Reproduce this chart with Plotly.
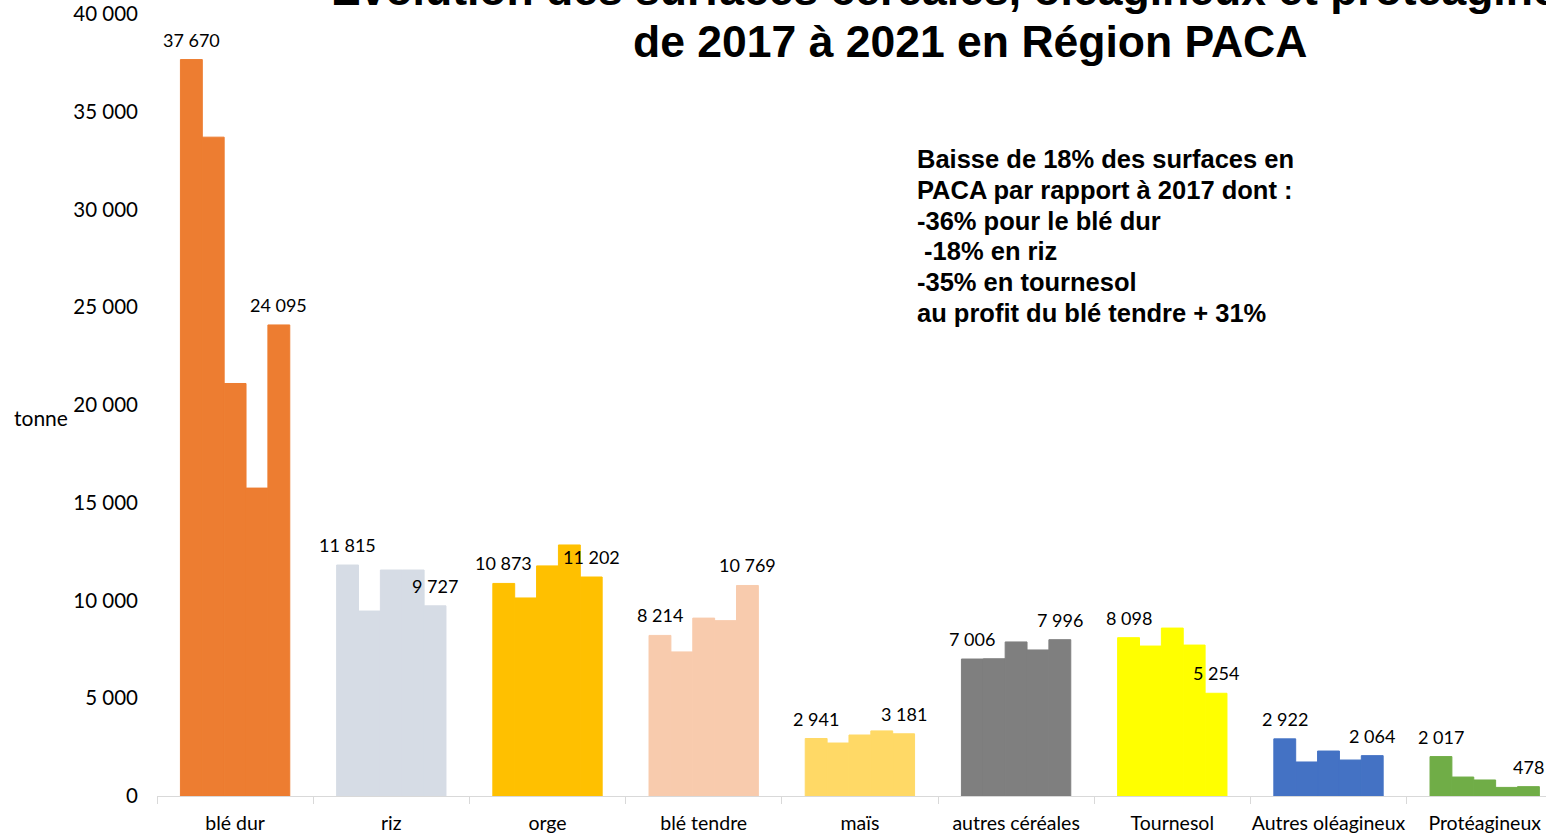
import plotly.graph_objects as go

categories = ["blé dur", "riz", "orge", "blé tendre", "maïs", "autres céréales",
              "Tournesol", "Autres oléagineux", "Protéagineux"]
years = ["2017", "2018", "2019", "2020", "2021"]

v2017 = [37670, 11815, 10873, 8214, 2941, 7006, 8098, 2922, 2017]
v2018 = [33700, 9460, 10130, 7370, 2710, 7020, 7670, 1740, 970]
v2019 = [21100, 11560, 11770, 9100, 3120, 7880, 8590, 2300, 820]
v2020 = [15750, 11560, 12840, 8970, 3330, 7470, 7720, 1840, 440]
v2021 = [24095, 9727, 11202, 10769, 3181, 7996, 5254, 2064, 478]
series = [v2017, v2018, v2019, v2020, v2021]
labelled_years = ["2017", "2021"]

colors = ["#ED7D31", "#D6DCE5", "#FFC000", "#F8CBAD", "#FFD966", "#7F7F7F",
          "#FFFF00", "#4472C4", "#70AD47"]

note_lines = ["Baisse de 18% des surfaces en",
              "PACA par rapport à 2017 dont :",
              "-36% pour le blé dur",
              "&nbsp;-18% en riz",
              "-35% en tournesol",
              "au profit du blé tendre + 31%"]

# the page body margin is removed below, so the figure fills the window
W, H = 1546, 837
L, T = 157, 14
B = H - 796
cat_px = 156.2
bargap = 0.3
bar_px = cat_px * (1 - bargap) / len(years)


def fmt(v):
    return f"{v:,}".replace(",", " ")


def px_x(p):
    # page pixel -> paper x
    return (p - L) / (W - L)


def px_y(p):
    # page pixel -> paper y
    return (796 - p) / (796 - T)


fig = go.Figure()
for yr, vals in zip(years, series):
    fig.add_trace(go.Bar(
        x=categories, y=vals, name=yr,
        marker=dict(color=colors, line=dict(width=1, color=colors)),
    ))

annotations = []
# value labels above the first and last year bars
for i, (yr, vals) in enumerate(zip(years, series)):
    if yr not in labelled_years:
        continue
    for cat, v in zip(categories, vals):
        annotations.append(dict(
            text=fmt(v), x=cat, y=v, xref="x", yref="y",
            xshift=(i - (len(years) - 1) / 2) * bar_px, yshift=20,
            xanchor="center", yanchor="middle", showarrow=False,
            font=dict(family="Lato", size=18, color="#000000")))

annotations.append(dict(
    text="<b>Evolution des surfaces céréales, oléagineux et protéagineux</b>",
    xref="paper", yref="paper", x=px_x(970), y=px_y(-10),
    xanchor="center", yanchor="middle", showarrow=False,
    font=dict(family="Liberation Sans", size=44.5, color="#000000")))
annotations.append(dict(
    text="<b>de 2017 à 2021 en Région PACA</b>",
    xref="paper", yref="paper", x=px_x(970), y=px_y(42),
    xanchor="center", yanchor="middle", showarrow=False,
    font=dict(family="Liberation Sans", size=44.5, color="#000000")))

for k, line in enumerate(note_lines):
    annotations.append(dict(
        text="<b>" + line + "</b>",
        xref="paper", yref="paper", x=px_x(915), y=px_y(159 + k * 30.8),
        xanchor="left", yanchor="middle", align="left", showarrow=False,
        font=dict(family="Liberation Sans", size=25.5, color="#000000")))

annotations.append(dict(
    text="tonne", xref="paper", yref="paper", x=px_x(12), y=px_y(417),
    xanchor="left", yanchor="middle", showarrow=False,
    font=dict(family="Lato", size=21, color="#000000")))

fig.update_layout(
    width=W, height=H,
    margin=dict(l=L, r=0, t=T, b=B, autoexpand=False),
    barmode="group", bargap=bargap, bargroupgap=0,
    showlegend=False,
    plot_bgcolor="white", paper_bgcolor="white",
    separators=", ",
    xaxis=dict(
        range=[-0.5, -0.5 + (W - L) / cat_px],
        tickson="boundaries", ticks="outside", ticklen=7,
        tickcolor="#d9d9d9", showline=True, linecolor="#d9d9d9", linewidth=1,
        showgrid=False, tickangle=0, automargin=False, ticklabelstandoff=10,
        tickfont=dict(family="Lato", size=19.5, color="#000000"),
    ),
    yaxis=dict(
        range=[0, 40000], dtick=5000, tickformat=",d",
        showgrid=False, zeroline=False, showline=False,
        ticklabelstandoff=18, ticklabeloverflow="allow", automargin=False,
        tickfont=dict(family="Lato", size=20.5, color="#000000"),
    ),
    annotations=annotations,
)

fig.write_html(
    "out.html",
    config={"displayModeBar": False},
    post_script="document.body.style.margin='0';document.body.style.overflow='hidden';",
)
